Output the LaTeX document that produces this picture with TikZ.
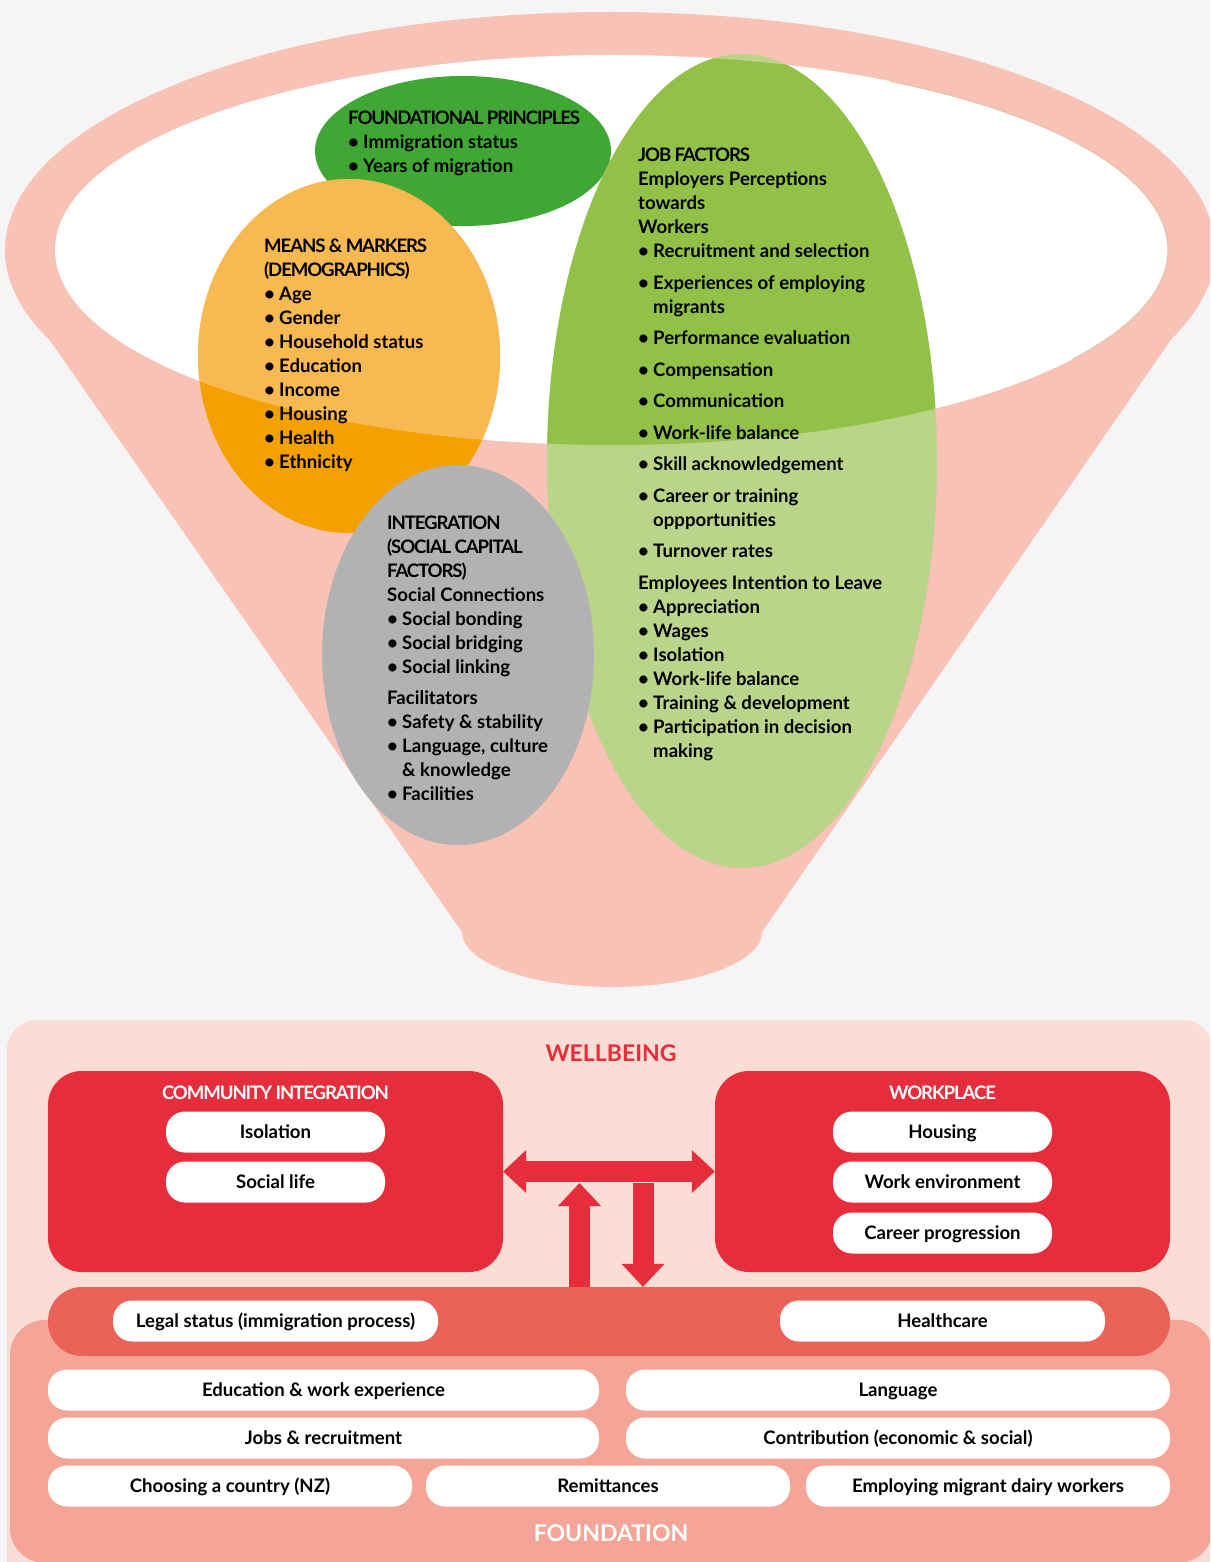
\documentclass[tikz,border=0pt]{standalone}
\usepackage{fontspec}
\setmainfont{Lato}
\usepackage{tikz}
\usetikzlibrary{arrows.meta}

\definecolor{bgGrey}{HTML}{F5F5F5}
\definecolor{funnelPink}{HTML}{F8C2B6}
\definecolor{rimTan}{HTML}{E6C3AA}
\definecolor{deepGreen}{HTML}{40A735}
\definecolor{leafGreen}{HTML}{92C148}
\definecolor{paleGreen}{HTML}{BAD589}
\definecolor{sunOrange}{HTML}{F4A100}
\definecolor{softOrange}{HTML}{F8B952}
\definecolor{stoneGrey}{HTML}{B2B2B2}
\definecolor{wellPink}{HTML}{FADDD4}
\definecolor{boxRed}{HTML}{E62D3B}
\definecolor{bandRed}{HTML}{EB6259}
\definecolor{basePink}{HTML}{F4A597}

\newcommand{\bitem}{\makebox[15pt][l]{\textbullet}}
\newcommand{\bgap}{\hspace*{15pt}}
\newcommand{\tight}[1]{{\addfontfeature{LetterSpace=-6}#1}}

\tikzset{
  listtext/.style={anchor=north west, align=left, inner sep=0pt,
    font=\bfseries\fontsize{18.6}{24}\selectfont},
  pill/.style={fill=white, rounded corners=19pt, minimum height=41pt,
    inner sep=0pt, text height=14pt, text depth=1pt,
    font=\bfseries\fontsize{18.6}{22}\selectfont},
  redbox/.style={fill=boxRed, rounded corners=34pt, minimum width=455pt,
    minimum height=201pt, inner sep=0pt},
  boxtitle/.style={text=white, inner sep=0pt,
    font=\bfseries\fontsize{18.6}{22}\selectfont},
  bigtitle/.style={inner sep=0pt, font=\bfseries\fontsize{23}{27}\selectfont},
  bigarrow/.style={draw=boxRed, line width=21pt},
  fat/.tip={Triangle[length=23pt,width=43pt,line width=0pt]}
}

\begin{document}
\begin{tikzpicture}[x=1pt,y=-1pt]
  \useasboundingbox (0,0) rectangle (1210,1562);
  \clip (0,0) rectangle (1210,1562);
  \fill[bgGrey] (0,0) rectangle (1210,1562);

  % funnel
  \fill[funnelPink] (610,250) ellipse [x radius=605pt, y radius=238pt];
  \fill[funnelPink] (12,286) -- (462,932)
    arc[start angle=180, end angle=360, x radius=150pt, y radius=55pt]
    -- (1210,283) -- cycle;
  \fill[white] (611.5,250) ellipse [x radius=556.5pt, y radius=195pt];
  \draw[rimTan, line width=1.3pt] (611.5,250) ++(60:556.5pt and 195pt)
    arc[start angle=60, end angle=-34, x radius=556.5pt, y radius=195pt];

  % groups
  \fill[deepGreen] (463,151) ellipse [x radius=148pt, y radius=75pt];
  \fill[sunOrange] (349,356) ellipse [x radius=151pt, y radius=177pt];
  \begin{scope}
    \clip (611.5,250) ellipse [x radius=556.5pt, y radius=195pt];
    \fill[softOrange] (349,356) ellipse [x radius=151pt, y radius=177pt];
  \end{scope}
  \fill[paleGreen] (742,461) ellipse [x radius=195pt, y radius=407pt];
  \begin{scope}
    \clip (611.5,250) ellipse [x radius=556.5pt, y radius=195pt];
    \fill[leafGreen] (742,461) ellipse [x radius=195pt, y radius=407pt];
  \end{scope}
  \fill[stoneGrey] (458,655) ellipse [x radius=136pt, y radius=190pt];

  \node[listtext] (principles) at (348,111) {\tight{FOUNDATIONAL PRINCIPLES}\\
    \bitem Immigration status\\
    \bitem Years of migration};
  \node[listtext] (markers) at (264,239) {\tight{MEANS \& MARKERS}\\
    \tight{(DEMOGRAPHICS)}\\
    \bitem Age\\
    \bitem Gender\\
    \bitem Household status\\
    \bitem Education\\
    \bitem Income\\
    \bitem Housing\\
    \bitem Health\\
    \bitem Ethnicity};
  \node[listtext] (jobs) at (638,148) {\tight{JOB FACTORS}\\
    Employers Perceptions\\
    towards\\
    Workers\\
    \bitem Recruitment and selection\\[7.5pt]
    \bitem Experiences of employing\\
    \bgap migrants\\[7.5pt]
    \bitem Performance evaluation\\[7.5pt]
    \bitem Compensation\\[7.5pt]
    \bitem Communication\\[7.5pt]
    \bitem Work-life balance\\[7.5pt]
    \bitem Skill acknowledgement\\[7.5pt]
    \bitem Career or training\\
    \bgap oppportunities\\[7.5pt]
    \bitem Turnover rates\\[7.5pt]
    Employees Intention to Leave\\
    \bitem Appreciation\\
    \bitem Wages\\
    \bitem Isolation\\
    \bitem Work-life balance\\
    \bitem Training \& development\\
    \bitem Participation in decision\\
    \bgap making};
  \node[listtext] (integration) at (387,516) {\tight{INTEGRATION}\\
    \tight{(SOCIAL CAPITAL}\\
    \tight{FACTORS)}\\
    Social Connections\\
    \bitem Social bonding\\
    \bitem Social bridging\\
    \bitem Social linking\\[7pt]
    Facilitators\\
    \bitem Safety \& stability\\
    \bitem Language, culture\\
    \bgap \& knowledge\\
    \bitem Facilities};

  % wellbeing and foundation
  \fill[wellPink, rounded corners=30pt] (7,1020) rectangle (1213,1600);
  \fill[basePink, rounded corners=35pt] (10,1320) rectangle (1213,1563);
  \node[bigtitle, text=boxRed] (wellbeing) at (611,1053) {WELLBEING};
  \node[bigtitle, text=white] (foundation) at (611,1533) {FOUNDATION};

  \node[redbox] (community) at (275.5,1171.5) {};
  \node[redbox] (workplace) at (942.5,1171.5) {};
  \node[boxtitle] (commtitle) at (275.5,1093) {\tight{COMMUNITY INTEGRATION}};
  \node[boxtitle] (worktitle) at (942.5,1093) {\tight{WORKPLACE}};
  \node[pill, minimum width=219pt] (isolation) at (275.5,1132) {Isolation};
  \node[pill, minimum width=219pt] (social) at (275.5,1182) {Social life};
  \node[pill, minimum width=219pt] (housing) at (942.5,1132) {Housing};
  \node[pill, minimum width=219pt] (environment) at (942.5,1182) {Work environment};
  \node[pill, minimum width=219pt] (career) at (942.5,1233) {Career progression};

  \node[fill=bandRed, rounded corners=34pt, minimum width=1122pt,
    minimum height=69pt, inner sep=0pt] (band) at (609,1321.5) {};
  \node[pill, minimum width=325pt] (legal) at (275.5,1321) {Legal status (immigration process)};
  \node[pill, minimum width=325pt] (health) at (942.5,1321) {Healthcare};

  \node[pill, minimum width=551pt] (education) at (323.5,1390) {Education \& work experience};
  \node[pill, minimum width=544pt] (language) at (898,1390) {Language};
  \node[pill, minimum width=551pt] (recruit) at (323.5,1438) {Jobs \& recruitment};
  \node[pill, minimum width=544pt] (contrib) at (898,1438) {Contribution (economic \& social)};
  \node[pill, minimum width=364pt] (country) at (230,1486) {Choosing a country (NZ)};
  \node[pill, minimum width=364pt] (remit) at (608,1486) {Remittances};
  \node[pill, minimum width=364pt] (dairy) at (988,1486) {Employing migrant dairy workers};

  % arrows
  \coordinate (uptip) at (579.5,1183);
  \coordinate (downtop) at (643,1183);
  \draw[bigarrow, fat-fat] (community.east) -- (workplace.west);
  \draw[bigarrow, -fat] (band.north -| uptip) -- (uptip);
  \draw[bigarrow, -fat] (downtop) -- (band.north -| downtop);
\end{tikzpicture}
\end{document}
